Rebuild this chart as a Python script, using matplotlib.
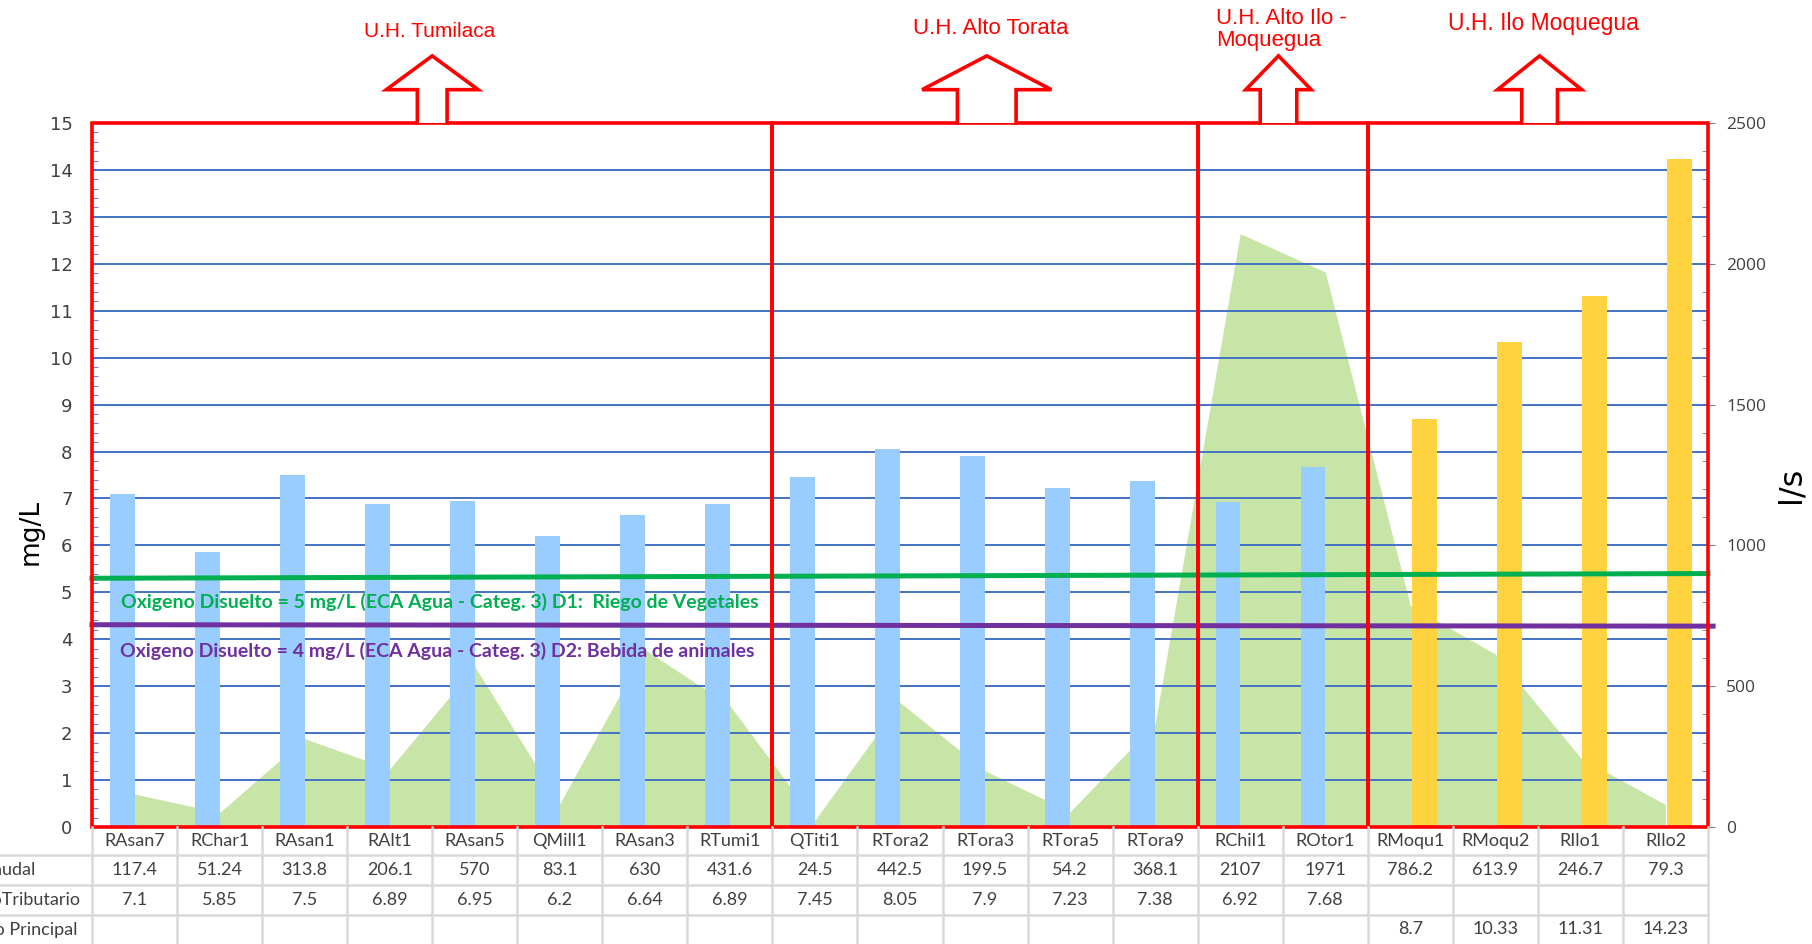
import numpy as np
import matplotlib.pyplot as plt
from matplotlib.lines import Line2D
from matplotlib.patches import Polygon, Rectangle
from matplotlib.ticker import MultipleLocator
from matplotlib.transforms import blended_transform_factory

# datos
estaciones = ["RAsan7", "RChar1", "RAsan1", "RAlt1", "RAsan5", "QMill1", "RAsan3", "RTumi1",
              "QTiti1", "RTora2", "RTora3", "RTora5", "RTora9", "RChil1", "ROtor1",
              "RMoqu1", "RMoqu2", "RIlo1", "RIlo2"]
caudal = [117.4, 51.24, 313.8, 206.1, 570, 83.1, 630, 431.6, 24.5, 442.5, 199.5, 54.2,
          368.1, 2107, 1971, 786.2, 613.9, 246.7, 79.3]
od_tributario = [7.1, 5.85, 7.5, 6.89, 6.95, 6.2, 6.64, 6.89, 7.45, 8.05, 7.9, 7.23,
                 7.38, 6.92, 7.68, None, None, None, None]
od_principal = [None] * 15 + [8.7, 10.33, 11.31, 14.23]
filas = ["Caudal", "OxigenoTributario", "Oxigeno Principal"]

# lineas ECA (como se dibujaron, extremos izq/der)
eca_d1 = [5.3, 5.4]
eca_d2 = [4.31, 4.28]
eca_d1_txt = "Oxigeno Disuelto = 5 mg/L (ECA Agua - Categ. 3) D1:  Riego de Vegetales"
eca_d2_txt = "Oxigeno Disuelto = 4 mg/L (ECA Agua - Categ. 3) D2: Bebida de animales"

# unidades hidrograficas
unidades = ["U.H. Tumilaca", "U.H. Alto Torata", "U.H. Alto Ilo -\nMoquegua", "U.H. Ilo Moquegua"]
limites = [(-0.5, 7.5), (7.5, 12.5), (12.5, 14.5), (14.5, 18.5)]

C_AZUL = "#99CCFF"
C_AMAR = "#FFD23F"
C_AREA = "#C8E5A8"
C_ROJO = "#FF0000"
C_GRID = "#4472C4"
C_TXT = "#404040"

W, H = 1812, 944
fig = plt.figure(figsize=(W / 100, H / 100), dpi=100)
ax = fig.add_axes([92 / W, 1 - 827 / H, (1708 - 92) / W, (827 - 123) / H])
ax2 = ax.twinx()
ax.set_zorder(ax2.get_zorder() + 1)
ax.patch.set_visible(False)

x = np.arange(len(estaciones))

# caudal como area (eje derecho)
ax2.fill_between(x, caudal, color=C_AREA, lw=0)
ax2.set_ylim(0, 2500)
ax2.yaxis.set_major_locator(MultipleLocator(500))
ax2.yaxis.set_minor_locator(MultipleLocator(100))
ax2.tick_params(axis="y", which="major", direction="out", length=5, color="#808080",
                labelsize=12.5, labelcolor=C_TXT, pad=8)
ax2.tick_params(axis="y", which="minor", direction="in", length=4, color="#808080")
for lb in ax2.get_yticklabels():
    lb.set_fontfamily("Open Sans")

# barras de oxigeno
ancho = 0.29
it = [i for i, v in enumerate(od_tributario) if v is not None]
ip = [i for i, v in enumerate(od_principal) if v is not None]
ax.bar(x[it] - ancho / 2, [od_tributario[i] for i in it], width=ancho, color=C_AZUL, zorder=2)
ax.bar(x[ip] + 0.02 + ancho / 2, [od_principal[i] for i in ip], width=ancho, color=C_AMAR, zorder=2)

ax.set_xlim(-0.5, 18.5)
ax.set_ylim(0, 15)
ax.yaxis.set_major_locator(MultipleLocator(1))
ax.yaxis.set_minor_locator(MultipleLocator(0.2))
ax.set_axisbelow(True)
ax.yaxis.grid(True, color=C_GRID, lw=1.4)
ax.tick_params(axis="y", which="both", direction="in", length=4, color=C_GRID,
               labelsize=13, labelcolor=C_TXT, pad=14)
ax.set_xticks([])
for a in (ax, ax2):
    for s in a.spines.values():
        s.set_visible(False)

# lineas ECA
ax.plot([-0.5, 18.5], eca_d1, color="#00B050", lw=3.6, zorder=4, clip_on=False)
ax.plot([-0.5, 18.56], eca_d2, color="#7030A0", lw=3.6, zorder=4, clip_on=False)
ax.text(-0.16, 4.79, eca_d1_txt, color="#00B050", fontsize=14, fontweight="bold",
        family="Lato", va="center", zorder=5)
ax.text(-0.17, 3.76, eca_d2_txt, color="#7030A0", fontsize=14, fontweight="bold",
        family="Lato", va="center", zorder=5)

# recuadros y flechas de unidades
for x0, x1 in limites:
    ax.add_patch(Rectangle((x0, 0), x1 - x0, 15, fill=False, ec=C_ROJO, lw=2.6,
                           zorder=6, clip_on=False))

flechas = [(3.5, 0.54, 0.175), (10.02, 0.76, 0.345), (13.45, 0.385, 0.215), (16.52, 0.495, 0.21)]
for cx, hw, sw in flechas:
    pts = [(cx - sw, 15), (cx - sw, 15.71), (cx - hw, 15.71), (cx, 16.43),
           (cx + hw, 15.71), (cx + sw, 15.71), (cx + sw, 15)]
    ax.add_patch(Polygon(pts, closed=True, fc="white", ec="none", zorder=7, clip_on=False))
    px, py = zip(*pts)
    ax.plot(px, py, color=C_ROJO, lw=2.6, zorder=8, clip_on=False, solid_joinstyle="miter")

ax.text(3.475, 16.94, unidades[0], color=C_ROJO, fontsize=15, family="Liberation Sans",
        ha="center", va="center")
ax.text(10.07, 17.01, unidades[1], color=C_ROJO, fontsize=16, family="Liberation Sans",
        ha="center", va="center")
ax.text(12.72, 17.0, unidades[2], color=C_ROJO, fontsize=16, family="Liberation Sans",
        ha="left", va="center", linespacing=1.05)
ax.text(16.57, 17.11, unidades[3], color=C_ROJO, fontsize=16.5, family="Liberation Sans",
        ha="center", va="center")

# titulos de ejes
fig.text(31 / W, 1 - 532 / H, "mg/L", rotation=90, fontsize=19, color="black",
         ha="center", va="center")
fig.text(1791 / W, 1 - 485 / H, "l/s", rotation=90, fontsize=23, color="black",
         ha="center", va="center")

# tabla de datos
tr = blended_transform_factory(ax.transData, fig.transFigure)
bordes = [827, 855, 885, 915, 944]
yc = [1 - (bordes[k] + bordes[k + 1]) / 2 / H for k in range(4)]
C_LIN = "#D9D9D9"
for b in bordes[1:4]:
    fig.add_artist(Line2D([0, 1708 / W], [1 - b / H] * 2, color=C_LIN, lw=1.8))
for xb in np.arange(-0.5, 19, 1):
    fig.add_artist(Line2D([xb, xb], [1 - 827 / H, 0], color=C_LIN, lw=1.8, transform=tr))

def fmt(v):
    return "" if v is None else f"{v:g}"

for i in range(len(estaciones)):
    for k, val in enumerate([estaciones[i], fmt(caudal[i]), fmt(od_tributario[i]),
                             fmt(od_principal[i])]):
        fig.text(i, yc[k], val, transform=tr, ha="center", va="center", fontsize=13,
                 family="Lato", color=C_TXT)
# etiquetas de fila (recortadas por el borde izquierdo, como en el original)
for k, lab in enumerate(filas):
    fig.text(8 / W, yc[k + 1], lab, ha="center", va="center", fontsize=13,
             family="Lato", color=C_TXT)

fig.savefig("out.png", dpi=100)
